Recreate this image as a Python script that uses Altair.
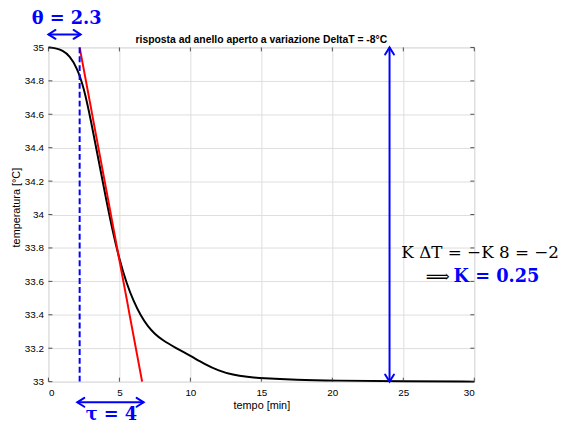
import altair as alt
import pandas as pd

# ---- data ----
t_min = [0, 0.5, 1.0, 1.5, 2.0, 2.5, 3.0, 3.5, 4.0, 4.5, 5.0, 5.5, 6.0, 6.5, 7.0,
         7.5, 8.0, 9.0, 10.0, 11.0, 12.0, 13.0, 14.0, 15.0, 17.5, 20.0, 25.0, 30.0]
temp_C = [35.0, 34.996, 34.982, 34.95, 34.88, 34.76, 34.56, 34.34, 34.12, 33.91,
          33.73, 33.59, 33.48, 33.395, 33.33, 33.285, 33.25, 33.20, 33.155, 33.105,
          33.065, 33.04, 33.028, 33.02, 33.01, 33.006, 33.002, 33.0]

tangent_t = [2.2, 6.6]
tangent_T = [35.0, 33.0]

theta_t = [2.2]
theta_T1 = [35.0]
theta_T2 = [33.0]

x_ticks = [0, 5, 10, 15, 20, 25, 30]
y_ticks = [33, 33.2, 33.4, 33.6, 33.8, 34, 34.2, 34.4, 34.6, 34.8, 35]

# annotation arrows (data units): theta, tau, K
arrow_x1 = [0.0, 2.03, 24.03]
arrow_x2 = [2.27, 6.71, 24.03]
arrow_y1 = [35.078, 32.876, 35.0]
arrow_y2 = [35.078, 32.876, 33.0]
head_start = ["left", "left", "up"]
head_end = ["right", "right", "down"]

# annotation texts
title_text = "risposta ad anello aperto a variazione DeltaT = -8°C"
theta_label = {"x": [1.28], "y": [35.1375], "text": ["θ = 2.3"]}
tau_label = {"x": [4.44], "y": [32.772], "text": ["τ = 4"]}
k_line1 = {"x": [24.86], "y": [33.737], "text": ["K ΔT = −K 8 = −2"]}
k_arrow = {"x": [26.58], "y": [33.596], "text": ["⟹"]}
k_line2 = {"x": [28.54], "y": [33.596], "text": ["K = 0.25"]}

W, H = 432, 339
BLUE = "#0000ff"
AX = "#262626"

xs = alt.Scale(domain=[0, 30], nice=False, zero=False)
ys = alt.Scale(domain=[33, 35], nice=False, zero=False)

x_axis = alt.Axis(values=x_ticks, format="~g", grid=True, ticks=False, tickSize=0,
                  domain=False, labelPadding=6, labelOverlap=False,
                  title="tempo [min]", titleFontWeight="normal",
                  titleX=216, titleY=24, titleBaseline="middle", titleAlign="center")
y_axis = alt.Axis(values=y_ticks, format="~g", grid=True, ticks=False, tickSize=0,
                  domain=False, labelPadding=5, labelOverlap=False,
                  title="temperatura [°C]", titleFontWeight="normal",
                  titleX=-32, titleY=162, titleBaseline="middle", titleAlign="center",
                  titleAngle=-90)


def X(field):
    return alt.X(field, scale=xs, axis=x_axis)


def Y(field):
    return alt.Y(field, scale=ys, axis=y_axis)


curve_df = pd.DataFrame({"t": t_min, "T": temp_C})
curve = alt.Chart(curve_df).mark_line(color="black", strokeWidth=2,
                                      interpolate="basis").encode(
    x=X("t:Q"), y=Y("T:Q"))

tan_df = pd.DataFrame({"t": tangent_t, "T": tangent_T})
tangent = alt.Chart(tan_df).mark_line(color="#ff0000", strokeWidth=2).encode(
    x=X("t:Q"), y=Y("T:Q"))

th_df = pd.DataFrame({"t": theta_t, "T1": theta_T1, "T2": theta_T2})
theta_line = alt.Chart(th_df).mark_rule(color=BLUE, strokeWidth=2,
                                        strokeDash=[6, 3]).encode(
    x=X("t:Q"), y=Y("T1:Q"), y2="T2:Q")

arr_df = pd.DataFrame({"x1": arrow_x1, "x2": arrow_x2, "y1": arrow_y1, "y2": arrow_y2})
shafts = alt.Chart(arr_df).mark_rule(color=BLUE, strokeWidth=2).encode(
    x=X("x1:Q"), x2="x2:Q", y=Y("y1:Q"), y2="y2:Q")

heads_df = pd.DataFrame({
    "x": arrow_x1 + arrow_x2,
    "y": arrow_y1 + arrow_y2,
    "dir": head_start + head_end,
})
shape_scale = alt.Scale(
    domain=["left", "right", "up", "down"],
    range=["M1.6,-1L0,0L1.6,1", "M-1.6,-1L0,0L-1.6,1",
           "M-1,1.6L0,0L1,1.6", "M-1,-1.6L0,0L1,-1.6"])
heads = alt.Chart(heads_df).mark_point(color=BLUE, filled=False, strokeWidth=2,
                                       size=81, opacity=1,
                                       strokeCap="round", strokeJoin="miter").encode(
    x=X("x:Q"), y=Y("y:Q"),
    shape=alt.Shape("dir:N", scale=shape_scale, legend=None))


def text_layer(d, color, size, weight="normal", align="center"):
    return alt.Chart(pd.DataFrame(d)).mark_text(
        color=color, fontSize=size, fontWeight=weight, font="DejaVu Serif",
        align=align, baseline="alphabetic").encode(
        x=X("x:Q"), y=Y("y:Q"), text="text:N")


t_theta = text_layer(theta_label, BLUE, 18, "bold")
t_tau = text_layer(tau_label, BLUE, 18, "bold")
t_k1 = text_layer(k_line1, "black", 17, "normal", "left")
t_k2a = text_layer(k_arrow, "black", 17, "normal", "left")
t_k2b = text_layer(k_line2, BLUE, 18, "bold", "left")

title = alt.Chart(pd.DataFrame({"text": [title_text]})).mark_text(
    font="Liberation Sans", fontSize=10.5, fontWeight="bold", color="black",
    align="center", baseline="alphabetic").encode(
    x=alt.value(W / 2), y=alt.value(-4), text="text:N")

# inward ticks on all four sides (MATLAB box style)
xt_df = pd.DataFrame({"v": x_ticks})
yt_df = pd.DataFrame({"v": y_ticks})
tick_bottom = alt.Chart(xt_df).mark_rule(color=AX, strokeWidth=0.8).encode(
    x=X("v:Q"), y=alt.value(H), y2=alt.value(H - 4))
tick_top = alt.Chart(xt_df).mark_rule(color=AX, strokeWidth=0.8).encode(
    x=X("v:Q"), y=alt.value(0), y2=alt.value(4))
tick_left = alt.Chart(yt_df).mark_rule(color=AX, strokeWidth=0.8).encode(
    y=Y("v:Q"), x=alt.value(0), x2=alt.value(4))
tick_right = alt.Chart(yt_df).mark_rule(color=AX, strokeWidth=0.8).encode(
    y=Y("v:Q"), x=alt.value(W), x2=alt.value(W - 4))

chart = alt.layer(
    curve, tick_bottom, tick_top, tick_left, tick_right,
    tangent, theta_line, shafts, heads,
    t_theta, t_tau, t_k1, t_k2a, t_k2b, title,
).properties(
    width=W, height=H,
    padding={"left": 41, "top": 37, "right": 91, "bottom": 40},
    autosize=alt.AutoSizeParams(type="none"),
).configure_view(
    stroke=AX, strokeWidth=1
).configure_axis(
    labelFont="Liberation Sans", labelFontSize=9.5, labelColor=AX,
    titleFont="Liberation Sans", titleFontSize=11, titleColor=AX,
    titleFontWeight="normal", gridColor="#e3e3e3", gridWidth=1,
    labelOverlap=False,
).configure(background="white")

chart.save("out.html", embed_options={"renderer": "svg", "actions": False})
